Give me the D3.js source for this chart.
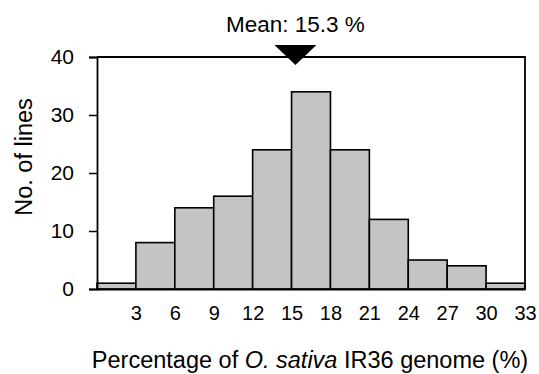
<!DOCTYPE html>
<html>
<head>
<meta charset="utf-8">
<script src="https://cdn.jsdelivr.net/npm/d3@7"></script>
<style>
  body { margin: 0; background: #fff; }
  text { font-family: "Liberation Sans", Arial, sans-serif; fill: #000; }
</style>
</head>
<body>
<div id="chart"></div>
<script>
// bin edges (percent) and counts per bin
const binStarts = [0, 3, 6, 9, 12, 15, 18, 21, 24, 27, 30];
const counts = [1, 8, 14, 16, 24, 34, 24, 12, 5, 4, 1];
const xTicks = [3, 6, 9, 12, 15, 18, 21, 24, 27, 30, 33];
const yTicks = [0, 10, 20, 30, 40];
const meanValue = 15.3;

const w = 539, h = 374;
const margin = {top: 57, right: 14, bottom: 85, left: 97};

const svg = d3.select("#chart").append("svg")
  .attr("width", w).attr("height", h);

const x = d3.scaleLinear().domain([0, 33]).range([margin.left, w - margin.right]);
const y = d3.scaleLinear().domain([0, 40]).range([h - margin.bottom, margin.top]);

// bars
svg.selectAll("rect.bar")
  .data(counts)
  .enter()
  .append("rect")
  .attr("class", "bar")
  .attr("x", (d, i) => x(binStarts[i]))
  .attr("y", d => y(d))
  .attr("width", (d, i) => x(binStarts[i] + 3) - x(binStarts[i]))
  .attr("height", d => y(0) - y(d))
  .attr("fill", "#c4c4c4")
  .attr("stroke", "#000")
  .attr("stroke-width", 1.6);

// frame (top and right)
svg.append("path")
  .attr("d", `M${x(0)},${y(40)}H${x(33)}V${y(0)}`)
  .attr("fill", "none").attr("stroke", "#000").attr("stroke-width", 1.8);

// y axis
const yAxis = d3.axisLeft(y).tickValues(yTicks).tickSize(8).tickPadding(15);
const gy = svg.append("g")
  .attr("transform", "translate(" + x(0) + ",0)")
  .call(yAxis);
gy.select(".domain").attr("stroke-width", 1.8);
gy.selectAll(".tick line").attr("stroke-width", 1.5);
gy.selectAll("text").attr("font-size", 21).attr("font-family", "Liberation Sans, Arial, sans-serif");

// x axis (labels only)
const xAxis = d3.axisBottom(x).tickValues(xTicks).tickSize(0).tickPadding(17);
const gx = svg.append("g")
  .attr("transform", "translate(0," + y(0) + ")")
  .call(xAxis);
gx.select(".domain").attr("stroke-width", 1.8);
gx.selectAll("text").attr("font-size", 20).attr("font-family", "Liberation Sans, Arial, sans-serif");

// mean marker
const mx = x(meanValue);
svg.append("path")
  .attr("d", `M${mx - 21},45L${mx + 21},45L${mx},65Z`)
  .attr("fill", "#000");
svg.append("text")
  .attr("x", mx).attr("y", 32)
  .attr("text-anchor", "middle")
  .attr("font-size", 22.5)
  .text("Mean: " + meanValue + " %");

// axis titles
const xt = svg.append("text")
  .attr("x", 310).attr("y", 368)
  .attr("text-anchor", "middle")
  .attr("font-size", 23.5);
xt.append("tspan").text("Percentage of ");
xt.append("tspan").attr("font-style", "italic").text("O. sativa");
xt.append("tspan").text(" IR36 genome (%)");

svg.append("text")
  .attr("transform", "translate(32,157) rotate(-90)")
  .attr("text-anchor", "middle")
  .attr("font-size", 23.5)
  .text("No. of lines");
</script>
</body>
</html>
